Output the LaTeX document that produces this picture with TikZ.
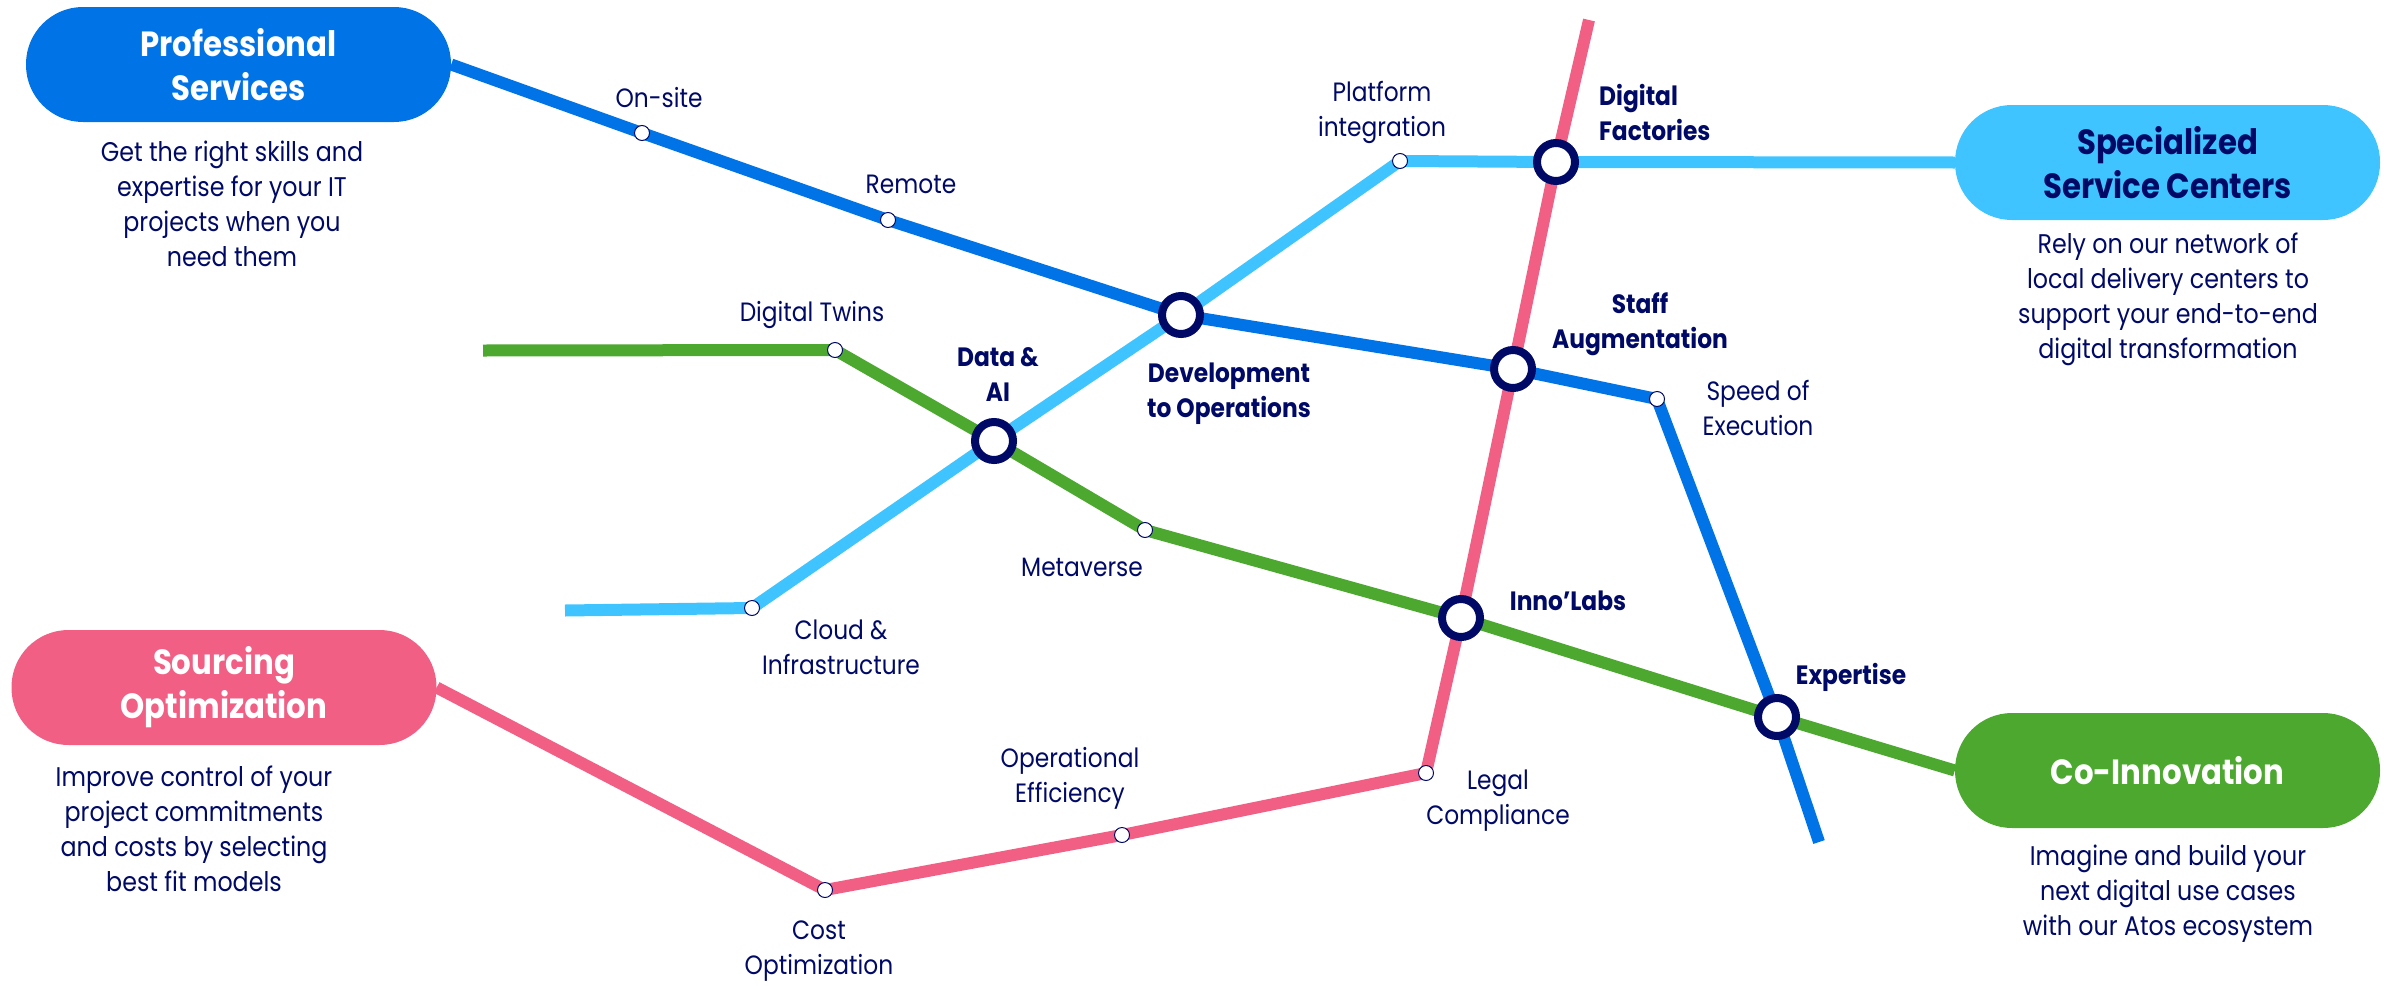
\documentclass[tikz,border=0pt]{standalone}
\usepackage{fontspec}
\setmainfont{Poppins}[FakeStretch=0.88]
\usetikzlibrary{backgrounds}
\definecolor{navy}{HTML}{000A66}
\definecolor{bluel}{HTML}{0073E6}
\definecolor{skyl}{HTML}{40C4FF}
\definecolor{greenl}{HTML}{4CA82E}
\definecolor{pinkl}{HTML}{F25F85}
\tikzset{
 line/.style={line width=12pt,line join=round},
 station/.style={circle,draw=navy,line width=8pt,fill=white,minimum size=38pt,inner sep=0pt},
 stop/.style={circle,draw=navy,line width=1pt,fill=white,minimum size=15pt,inner sep=0pt},
 pill/.style={rounded corners=57pt,minimum width=425pt,minimum height=115pt,inner sep=0pt,text=white,font=\fontsize{35}{44}\selectfont\bfseries,align=center},
 body/.style={text=navy,inner sep=0pt,align=center,font=\fontsize{27}{35}\selectfont},
 lab/.style={text=navy,inner sep=0pt,align=center,font=\fontsize{26.5}{35}\selectfont},
 slab/.style={text=navy,inner sep=0pt,align=center,font=\fontsize{26.5}{35}\selectfont\bfseries},
}
\begin{document}
\begin{tikzpicture}[x=1pt,y=-1pt]
\useasboundingbox (0,0) rectangle (2397,985);
\node[pill,fill=bluel] (pro) at (238.5,64.5) {Professional\\Services};
\node[pill,fill=skyl,text=navy] (spec) at (2167.5,162.5) {Specialized\\Service Centers};
\node[pill,fill=pinkl] (sour) at (224,687.5) {Sourcing\\Optimization};
\node[pill,fill=greenl] (coin) at (2167.5,770.5) {Co-Innovation};
% stations
\node[station] (dev) at (1181,315) {};
\node[station] (data) at (994,441) {};
\node[station] (staff) at (1513,369) {};
\node[station] (fact) at (1556,162) {};
\node[station] (inno) at (1461,618) {};
\node[station] (expt) at (1777,717) {};
% stops
\node[stop] (onsite) at (642,133) {};
\node[stop] (remote) at (888,220) {};
\node[stop] (twins) at (835,350) {};
\node[stop] (plat) at (1400,161) {};
\node[stop] (meta) at (1145,530) {};
\node[stop] (cloud) at (752,608) {};
\node[stop] (speed) at (1657,399) {};
\node[stop] (cost) at (825,890) {};
\node[stop] (oper) at (1122,835) {};
\node[stop] (legal) at (1426,773) {};
% free ends
\coordinate (bend) at (1819,842);
\coordinate (send) at (565,610.5);
\coordinate (gend) at (483,350.5);
\coordinate (pend) at (1589,20);
\begin{scope}[on background layer]
\draw[line,greenl] (gend) -- (twins.center) -- (data.center) -- (meta.center) -- (inno.center) -- (expt.center) -- (coin.west);
\draw[line,skyl] (send) -- (cloud.center) -- (data.center) -- (dev.center) -- (plat.center) -- (fact.center) -- (spec.west);
\draw[line,pinkl] (sour.east) -- (cost.center) -- (oper.center) -- (legal.center) -- (inno.center) -- (staff.center) -- (fact.center) -- (pend);
\draw[line,bluel] (pro.east) -- (onsite.center) -- (remote.center) -- (dev.center) -- (staff.center) -- (speed.center) -- (expt.center) -- (bend);
\end{scope}
% body texts
\node[body] (t1) at (232,204) {Get the right skills and\\expertise for your IT\\projects when you\\need them};
\node[body] (t2) at (2168,299) {Rely on our network of\\local delivery centers to\\support your end-to-end\\digital transformation};
\node[body] (t3) at (194,829) {Improve control of your\\project commitments\\and costs by selecting\\best fit models};
\node[body] (t4) at (2168,894) {Imagine and build your\\next digital use cases\\with our Atos ecosystem};
% labels
\node[lab] (l1) at (659,98) {On-site};
\node[lab] (l2) at (911,184) {Remote};
\node[lab] (l3) at (1382,112) {Platform\\integration};
\node[lab] (l4) at (1758,408) {Speed of\\Execution};
\node[lab] (l5) at (812,315) {Digital Twins};
\node[lab] (l6) at (1082,567) {Metaverse};
\node[lab] (l7) at (841,647) {Cloud \&\\Infrastructure};
\node[lab] (l8) at (1070,778) {Operational\\Efficiency};
\node[lab] (l9) at (1498,801) {Legal\\Compliance};
\node[lab] (l10) at (819,951) {Cost\\Optimization};
\node[slab,align=left,anchor=west] (s1) at (1599,112) {Digital\\Factories};
\node[slab] (s2) at (1640,324) {Staff\\Augmentation};
\node[slab] (s3) at (998,375) {Data \&\\AI};
\node[slab] (s4) at (1229,394) {Development\\to Operations};
\node[slab] (s5) at (1568,601) {Inno'Labs};
\node[slab] (s6) at (1851,677) {Expertise};
\end{tikzpicture}
\end{document}
